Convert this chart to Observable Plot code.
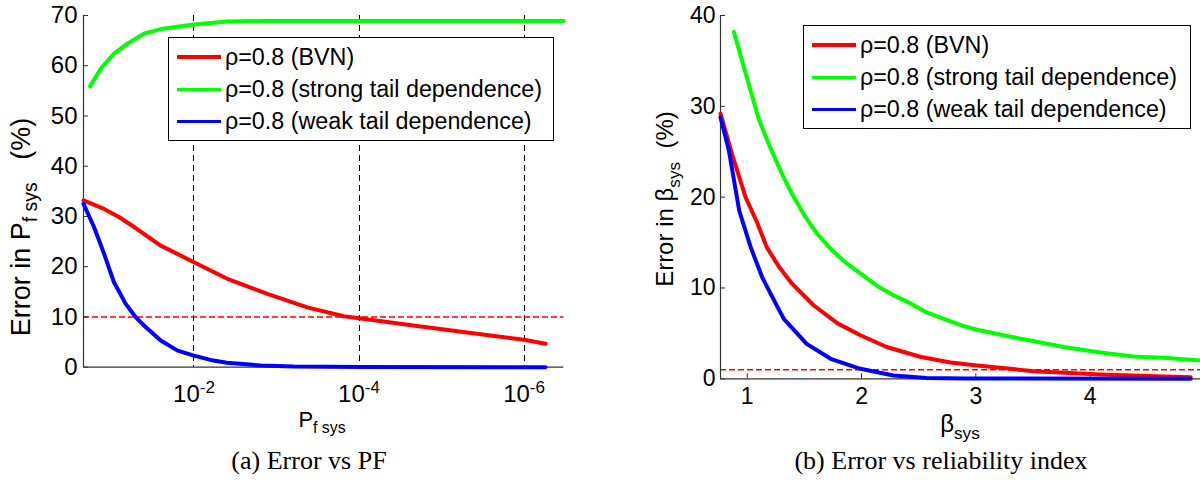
<!DOCTYPE html>
<html>
<head>
<meta charset="utf-8">
<script src="https://cdn.jsdelivr.net/npm/d3@7"></script>
<script src="https://cdn.jsdelivr.net/npm/@observablehq/plot@0.6"></script>
<style>
  html, body { margin: 0; padding: 0; background: #fff; }
  #root { position: relative; width: 1200px; height: 483px; overflow: hidden; background: #fff; font-family: "Liberation Sans", Arial, sans-serif; color: #000; }
  .abs { position: absolute; white-space: nowrap; }
  .legend { position: absolute; border: 1.4px solid #000; background: #fff; box-sizing: border-box; }
  .row { position: absolute; left: 0; height: 32px; display: flex; align-items: center; font-size: 23.3px; }
  .swatch { width: 44px; height: 3.5px; margin-left: 8px; margin-right: 4px; }
  .sub { font-size: 0.72em; position: relative; top: 0.38em; }
  .cap { position: absolute; white-space: nowrap; font-family: "Liberation Serif", "Times New Roman", serif; font-size: 26px; line-height: 26px; transform: translateX(-50%); }
  .ylab { position: absolute; white-space: nowrap; transform: translate(-50%, -50%) rotate(-90deg); line-height: 1; }
  svg { position: absolute; top: 0; overflow: visible; }
</style>
</head>
<body>
<div id="root"></div>
<script>
// ---------- data ----------
const seriesNames = ["ρ=0.8 (BVN)", "ρ=0.8 (strong tail dependence)", "ρ=0.8 (weak tail dependence)"];
const seriesColors = ["#ff0000", "#00ff00", "#0000ff"];

// (a) Error in Pf_sys vs Pf_sys
const pfBVN = [0.218, 0.123, 0.0809, 0.0532, 0.0253, 0.01, 0.00394, 0.00129, 4.23e-4, 1.53e-4, 1e-4, 1.97e-5, 4.9e-6, 1e-6, 5.5e-7];
const errPfBVN = [33.2, 31.5, 29.9, 27.9, 24.2, 20.9, 17.6, 14.6, 11.9, 10.15, 9.75, 8.2, 6.9, 5.45, 4.65];
const pfStrong = [0.1816, 0.1349, 0.0931, 0.064, 0.0403, 0.0253, 0.01, 0.00394, 0.00156, 3.3e-7];
const errPfStrong = [55.9, 59.4, 62.4, 64.4, 66.4, 67.3, 68.2, 68.8, 68.9, 68.9];
const pfWeak = [0.218, 0.1626, 0.123, 0.0931, 0.0671, 0.0508, 0.0403, 0.0253, 0.0158, 0.01, 0.0063, 0.004, 0.00155, 6.2e-4, 9.5e-5, 5.5e-7];
const errPfWeak = [32.5, 27.9, 22.6, 16.9, 12.6, 9.95, 8.3, 5.3, 3.3, 2.3, 1.45, 0.87, 0.34, 0.14, 0.03, 0];
const pfDomain = [0.218, 3.3e-7];
const pfTicks = [1e-2, 1e-4, 1e-6];
const errPfTicks = [0, 10, 20, 30, 40, 50, 60, 70];
const errPfDomain = [0, 70];
const errPfThreshold = 10;

// (b) Error in beta_sys vs beta_sys
const betaBVN = [0.766, 0.87, 0.985, 1.09, 1.17, 1.28, 1.39, 1.58, 1.79, 1.99, 2.22, 2.52, 2.78, 3.01, 3.51, 4.09, 4.88];
const errBetaBVN = [29.2, 24.6, 20.0, 17.1, 14.5, 12.3, 10.5, 8.1, 6.1, 4.8, 3.5, 2.4, 1.8, 1.46, 0.84, 0.47, 0.18];
const betaStrong = [0.883, 1.10, 1.20, 1.31, 1.39, 1.51, 1.61, 1.73, 1.87, 1.99, 2.14, 2.28, 2.43, 2.57, 2.72, 2.87, 3.01, 3.36, 3.77, 4.09, 4.38, 4.67, 4.966];
const errBetaStrong = [38.2, 28.6, 25.5, 22.4, 20.4, 17.8, 16.0, 14.3, 12.7, 11.6, 10.2, 9.2, 8.3, 7.3, 6.6, 5.9, 5.4, 4.5, 3.5, 2.9, 2.45, 2.3, 2.0];
const betaWeak = [0.766, 0.84, 0.93, 1.03, 1.13, 1.22, 1.32, 1.52, 1.73, 1.99, 2.28, 2.57, 2.9, 4.88];
const errBetaWeak = [28.8, 25.1, 18.5, 14.5, 11.2, 9.0, 6.6, 3.85, 2.2, 1.1, 0.36, 0.1, 0.03, 0];
const betaDomain = [0.766, 4.966];
const betaTicks = [1, 2, 3, 4];
const errBetaTicks = [0, 10, 20, 30, 40];
const errBetaDomain = [0, 40];
const errBetaThreshold = 1;

const captions = ["(a) Error vs PF", "(b) Error vs reliability index"];

// ---------- helpers ----------
const zip = (xs, ys) => xs.map((x, i) => ({x, y: ys[i]}));
const root = document.getElementById("root");
const axisColor = "#333";

function curves(sets) {
  return sets.map(([xs, ys], i) => Plot.line(zip(xs, ys), {x: "x", y: "y", stroke: seriesColors[i], strokeWidth: 4, strokeLinejoin: "round"}));
}

// ---------- panel (a) ----------
const left = Plot.plot({
  width: 600, height: 420,
  marginLeft: 83, marginRight: 36.7, marginTop: 15, marginBottom: 53.3,
  style: {fontFamily: '"Liberation Sans", Arial, sans-serif', fontSize: "24px", background: "transparent", color: "#000", overflow: "visible"},
  x: {type: "log", domain: pfDomain},
  y: {domain: errPfDomain},
  marks: [
    Plot.ruleX(pfTicks, {stroke: "#000", strokeWidth: 1, strokeDasharray: "6,4", shapeRendering: "crispEdges"}),
    Plot.ruleY([errPfThreshold], {stroke: "#ff0000", strokeWidth: 1.4, strokeDasharray: "6,3"}),
    Plot.ruleY([errPfDomain[0]], {stroke: axisColor, strokeWidth: 1.2}),
    Plot.ruleX([pfDomain[0]], {stroke: axisColor, strokeWidth: 1.2}),
    Plot.axisY({ticks: errPfTicks, tickSize: -5, tickPadding: 11, label: null, stroke: axisColor}),
    Plot.axisX({ticks: pfTicks, tickSize: 0, tickPadding: 18, label: null, tickFormat: d => "10|" + Math.round(Math.log10(d))}),
    ...curves([[pfBVN, errPfBVN], [pfStrong, errPfStrong], [pfWeak, errPfWeak]])
  ]
});
left.style.left = "0px";
root.appendChild(left);
d3.select(left).selectAll('g[aria-label="x-axis tick label"] text').each(function() {
  const [b, e] = this.textContent.split("|");
  this.textContent = b;
  d3.select(this).append("tspan").attr("dy", "-0.55em").attr("font-size", "17px").text(e.replace("−", "-"));
});

// ---------- panel (b) ----------
const right = Plot.plot({
  width: 600, height: 430,
  marginLeft: 120, marginRight: 0, marginTop: 15, marginBottom: 51.7,
  style: {fontFamily: '"Liberation Sans", Arial, sans-serif', fontSize: "23px", background: "transparent", color: "#000", overflow: "visible"},
  x: {domain: betaDomain},
  y: {domain: errBetaDomain},
  marks: [
    Plot.ruleY([errBetaThreshold], {stroke: "#ff0000", strokeWidth: 1.4, strokeDasharray: "6,3"}),
    Plot.ruleY([errBetaDomain[0]], {stroke: axisColor, strokeWidth: 1.2}),
    Plot.ruleX([betaDomain[0]], {stroke: axisColor, strokeWidth: 1.2}),
    Plot.axisY({ticks: errBetaTicks, tickSize: -5, tickPadding: 10, label: null, stroke: axisColor}),
    Plot.axisX({ticks: betaTicks, tickSize: -5, tickPadding: 14, label: null, stroke: axisColor, tickFormat: d => String(d)}),
    ...curves([[betaBVN, errBetaBVN], [betaStrong, errBetaStrong], [betaWeak, errBetaWeak]])
  ]
});
right.style.left = "600px";
root.appendChild(right);

// ---------- legends ----------
function legend(x, y, w, h) {
  const box = document.createElement("div");
  box.className = "legend";
  Object.assign(box.style, {left: x + "px", top: y + "px", width: w + "px", height: h + "px"});
  seriesNames.forEach((name, i) => {
    const row = document.createElement("div");
    row.className = "row";
    row.style.top = (3 + i * 32.3) + "px";
    const sw = document.createElement("div");
    sw.className = "swatch";
    sw.style.background = seriesColors[i];
    const t = document.createElement("span");
    t.textContent = name;
    row.appendChild(sw); row.appendChild(t);
    box.appendChild(row);
  });
  root.appendChild(box);
}
legend(168, 37, 386, 104);
legend(803, 25, 388, 104);

// ---------- axis labels & captions ----------
function html(cls, css, inner) {
  const d = document.createElement("div");
  d.className = cls;
  Object.assign(d.style, css);
  d.innerHTML = inner;
  root.appendChild(d);
}
html("ylab", {left: "21px", top: "227px", fontSize: "27px"}, 'Error in P<span class="sub">f sys</span>&nbsp;&nbsp;&nbsp;(%)');
html("ylab", {left: "665px", top: "199px", fontSize: "24px"}, 'Error in β<span class="sub">sys</span>&nbsp; (%)');
html("abs", {left: "322px", top: "409px", fontSize: "22px", lineHeight: "22px", transform: "translateX(-50%)"}, 'P<span class="sub">f sys</span>');
html("abs", {left: "960px", top: "412px", fontSize: "24px", lineHeight: "24px", transform: "translateX(-50%)"}, 'β<span class="sub">sys</span>');
html("cap", {left: "309px", top: "448px"}, captions[0]);
html("cap", {left: "941px", top: "448px"}, captions[1]);
</script>
</body>
</html>
